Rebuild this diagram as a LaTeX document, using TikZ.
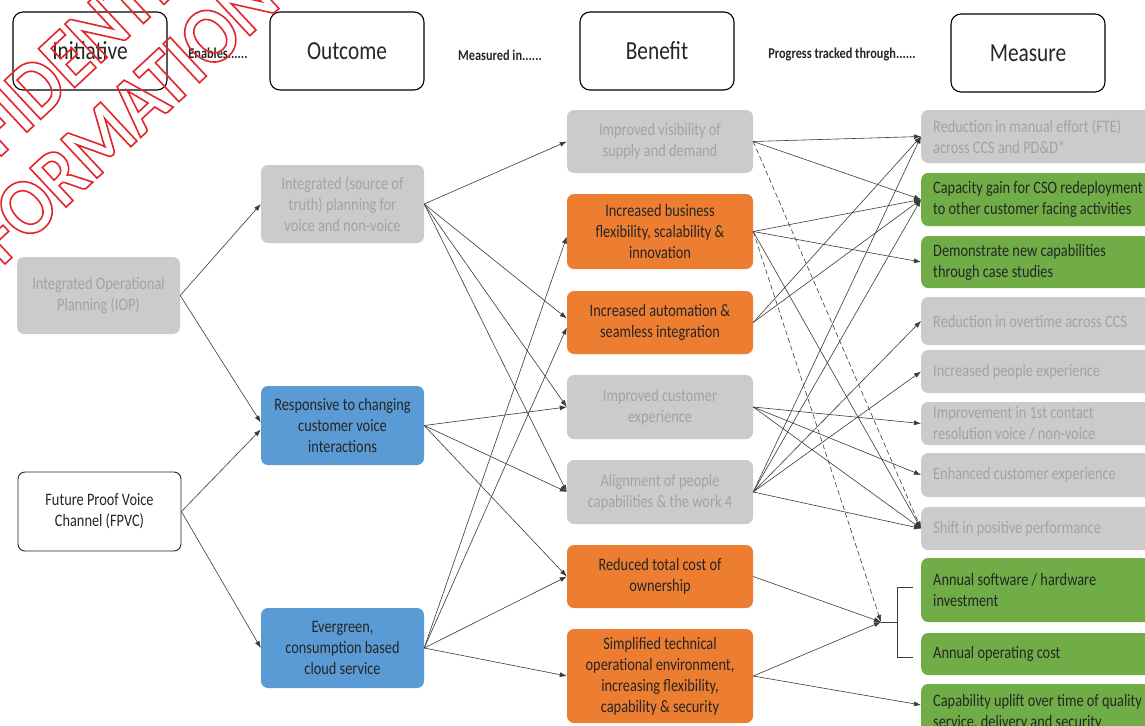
\documentclass[tikz,border=0pt]{standalone}
\usepackage{fontspec}
\setmainfont{Carlito}[FakeStretch=0.82]
\newfontfamily\stampfont{Carlito}[FakeStretch=0.9]
\usetikzlibrary{arrows.meta,calc}

\definecolor{boxgray}{HTML}{CBCBCB}
\definecolor{txtgray}{HTML}{A3A3A3}
\definecolor{boxorange}{HTML}{ED7D31}
\definecolor{boxblue}{HTML}{5B9BD5}
\definecolor{boxgreen}{HTML}{70AD47}
\definecolor{txtdark}{HTML}{262626}
\definecolor{linkgray}{HTML}{3A3A3A}
\definecolor{stampred}{HTML}{E3262B}

% outlined (stroked, unfilled) glyphs for the stamp
\newcommand\hollowtext[1]{\special{pdf:literal direct 1 Tr 1.6 w}#1\special{pdf:literal direct 0 Tr}}

\tikzset{
  base/.style={rectangle, rounded corners=7pt, inner sep=0pt, align=center,
    font=\fontsize{17.5}{21}\selectfont},
  graybox/.style={base, fill=boxgray, text=txtgray},
  orangebox/.style={base, fill=boxorange, text=txtdark},
  bluebox/.style={base, fill=boxblue, text=txtdark},
  greenbox/.style={base, fill=boxgreen, text=txtdark},
  outbox/.style={minimum width=163pt},
  benbox/.style={minimum width=186pt},
  measbox/.style={anchor=west, align=flush left, text width=236pt, inner xsep=12pt},
  header/.style={base, draw=black, line width=1.1pt, fill=white, text=txtdark,
    rounded corners=10pt, minimum width=154pt, minimum height=78pt,
    font=\fontsize{26}{30}\selectfont},
  lab/.style={font=\bfseries\fontsize{15}{18}\selectfont, text=txtdark, inner sep=0pt},
  link/.style={draw=linkgray, line width=0.6pt, -{Latex[length=7pt,width=5pt]}},
  dashlink/.style={link, dash pattern=on 5pt off 3pt},
  bracket/.style={draw=linkgray, line width=0.6pt},
  stamp/.style={font=\stampfont\bfseries\fontsize{82}{82}\selectfont, text=stampred, inner sep=0pt}
}

\begin{document}
\begin{tikzpicture}[x=1pt,y=-1pt]
\useasboundingbox (0,0) rectangle (1145,725);
\begin{scope}
\clip (0,0) rectangle (1145,725);
\fill[white] (0,0) rectangle (1145,725);

% column headers and the words between them
\node[header] (hInit) at (90,51) {Initiative};
\node[header] (hOut)  at (347,51) {Outcome};
\node[header] (hBen)  at (657,51) {Benefit};
\node[header] (hMeas) at (1028,53) {Measure};
\node[lab] (lEn) at (218,53) {Enables......};
\node[lab] (lMe) at (500,55) {Measured in......};
\node[lab] (lPr) at (842,55) {Progress tracked through......};

% initiatives
\node[graybox, minimum width=163pt, minimum height=77pt] (iop) at (98.5,295.5)
  {Integrated Operational\\Planning (IOP)};
\node[base, draw=black!85, line width=0.9pt, fill=white, text=txtdark,
  minimum width=163pt, minimum height=79pt] (fpvc) at (99.5,511.5)
  {Future Proof Voice\\Channel (FPVC)};

% outcomes
\node[graybox, outbox, minimum height=78pt] (plan) at (342.5,204)
  {Integrated (source of\\truth) planning for\\voice and non-voice};
\node[bluebox, outbox, minimum height=79pt] (resp) at (342.5,425.5)
  {Responsive to changing\\customer voice\\interactions};
\node[bluebox, outbox, minimum height=80pt] (ever) at (342.5,648)
  {Evergreen,\\consumption based\\cloud service};

% benefits
\node[graybox, benbox, minimum height=63pt] (vis) at (660,141.5)
  {Improved visibility of\\supply and demand};
\node[orangebox, benbox, minimum height=75pt] (bus) at (660,231.5)
  {Increased business\\flexibility, scalability \&\\innovation};
\node[orangebox, benbox, minimum height=63pt] (auto) at (660,322.5)
  {Increased automation \&\\seamless integration};
\node[graybox, benbox, minimum height=64pt] (cust) at (660,407)
  {Improved customer\\experience};
\node[graybox, benbox, minimum height=64pt] (align) at (660,492)
  {Alignment of people\\capabilities \& the work 4};
\node[orangebox, benbox, minimum height=63pt] (cost) at (660,576.5)
  {Reduced total cost of\\ownership};
\node[orangebox, benbox, minimum height=94pt] (simp) at (660,676)
  {Simplified technical\\operational environment,\\increasing flexibility,\\capability \& security};

% measures
\node[graybox, measbox, minimum height=53pt] (manual) at (921,136.5)
  {Reduction in manual effort (FTE)\\across CCS and PD\&D*};
\node[greenbox, measbox, minimum height=53pt] (cap) at (921,199.5)
  {Capacity gain for CSO redeployment\\to other customer facing activities};
\node[greenbox, measbox, minimum height=52pt] (demo) at (921,262)
  {Demonstrate new capabilities\\through case studies};
\node[graybox, measbox, minimum height=48pt] (over) at (921,321)
  {Reduction in overtime across CCS};
\node[graybox, measbox, minimum height=43pt] (people) at (921,371.5)
  {Increased people experience};
\node[graybox, measbox, minimum height=43pt] (contact) at (921,423.5)
  {Improvement in 1st contact\\resolution voice / non-voice};
\node[graybox, measbox, minimum height=44pt] (enh) at (921,475)
  {Enhanced customer experience};
\node[graybox, measbox, minimum height=43pt] (shift) at (921,528.5)
  {Shift in positive performance};
\node[greenbox, measbox, minimum height=64pt] (soft) at (921,590)
  {Annual software / hardware\\investment};
\node[greenbox, measbox, minimum height=42pt] (opex) at (921,654)
  {Annual operating cost};
\node[greenbox, measbox, minimum height=56pt] (uplift) at (921,712)
  {Capability uplift over time of quality\\service, delivery and security};

% bracket grouping the two cost measures
\coordinate (hub) at ($(soft.west)!0.5!(opex.west)+(-40,0)$);
\draw[bracket] ([xshift=-8pt,yshift=3pt]soft.west) -- ++(-16,0)
  -- ($([xshift=-8pt,yshift=-3pt]opex.west)+(-16,0)$) -- ([xshift=-8pt,yshift=-3pt]opex.west);
\draw[bracket] (hub) -- ($(hub)+(16,0)$);

% initiative -> outcome
\draw[link] (iop.east) -- (plan.west);
\draw[link] (iop.east) -- ([yshift=3pt]resp.west);
\draw[link] (fpvc.east) -- ([yshift=-4pt]resp.west);
\draw[link] (fpvc.east) -- (ever.west);

% outcome -> benefit
\draw[link] (plan.east) -- (vis.west);
\draw[link] (plan.east) -- ([yshift=4pt]auto.west);
\draw[link] (plan.east) -- (cust.west);
\draw[link] (plan.east) -- (align.west);
\draw[link] (resp.east) -- (cust.west);
\draw[link] (resp.east) -- (align.west);
\draw[link] (resp.east) -- (cost.west);
\draw[link] (ever.east) -- ([yshift=-5pt]bus.west);
\draw[link] (ever.east) -- ([yshift=-5pt]auto.west);
\draw[link] (ever.east) -- (cost.west);
\draw[link] (ever.east) -- (simp.west);

% benefit -> measure
\draw[link] (vis.east) -- (manual.west);
\draw[link] (vis.east) -- (cap.west);
\draw[dashlink] (vis.east) -- (shift.west);
\draw[link] (bus.east) -- (cap.west);
\draw[link] (bus.east) -- (demo.west);
\draw[link] (bus.east) -- (shift.west);
\draw[dashlink] (bus.east) -- (hub);
\draw[link] (auto.east) -- (manual.west);
\draw[link] (auto.east) -- (cap.west);
\draw[link] (cust.east) -- (contact.west);
\draw[link] (cust.east) -- (enh.west);
\draw[link] (cust.east) -- (shift.west);
\draw[link] (align.east) -- (manual.west);
\draw[link] (align.east) -- (cap.west);
\draw[link] (align.east) -- (over.west);
\draw[link] (align.east) -- (people.west);
\draw[link] (align.east) -- (shift.west);
\draw[link] (cost.east) -- (hub);
\draw[link] (simp.east) -- (hub);
\draw[link] (simp.east) -- ([yshift=7pt]uplift.west);

% red outlined stamp across the top-left corner
\node[stamp, rotate=43] (stampA) at (46,78) {\hollowtext{CONFIDENTIAL}};
\node[stamp, rotate=43] (stampB) at (99,140) {\hollowtext{INFORMATION}};
\end{scope}
\end{tikzpicture}
\end{document}
